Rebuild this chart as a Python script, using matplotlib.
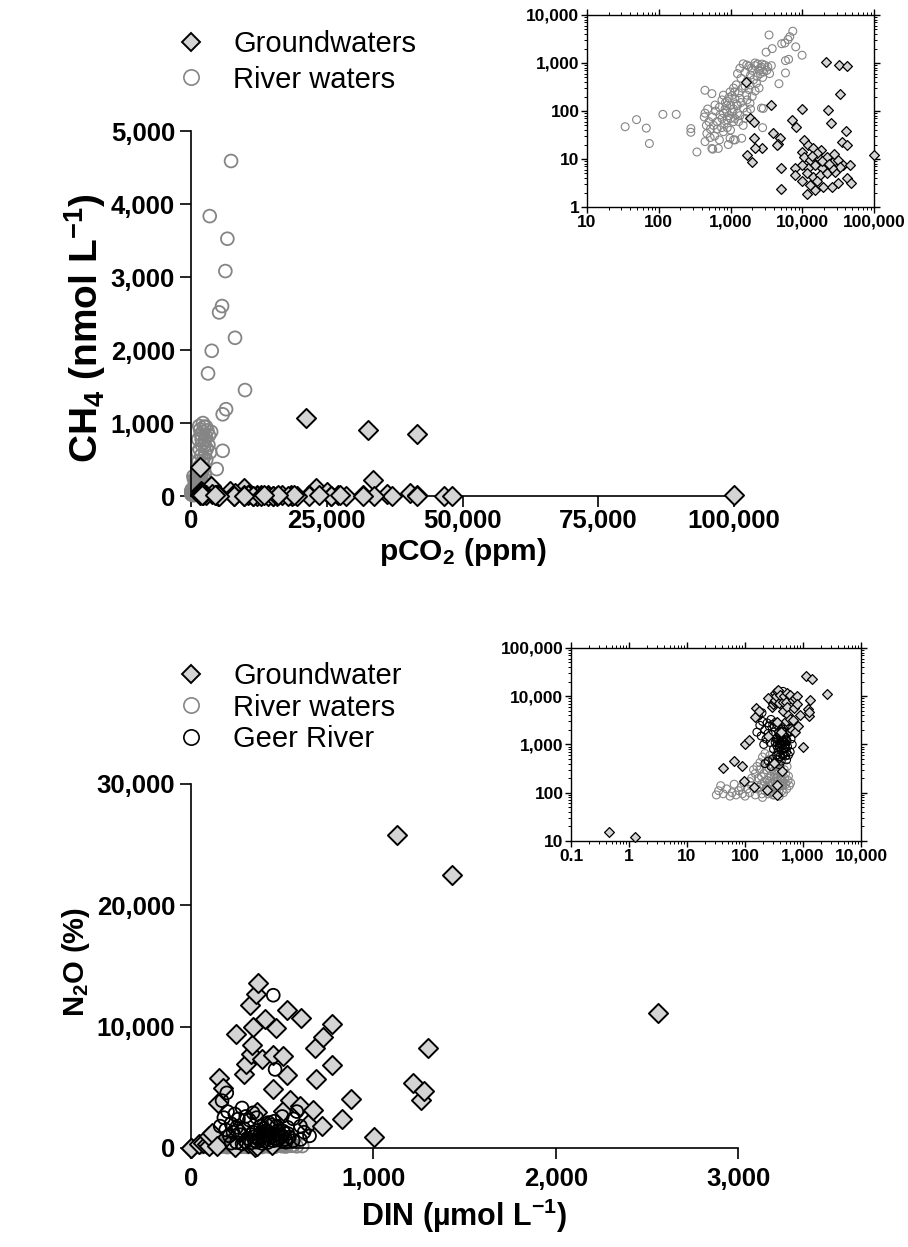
import numpy as np
import matplotlib
matplotlib.use('Agg')
import matplotlib.pyplot as plt
from matplotlib.lines import Line2D
from matplotlib.ticker import FuncFormatter, LogLocator, NullFormatter

plt.rcParams['font.family'] = 'Liberation Sans'
plt.rcParams['font.weight'] = 'bold'
plt.rcParams['axes.labelweight'] = 'bold'
plt.rcParams['mathtext.default'] = 'regular'

# ---- pCO2 (ppm) vs CH4 (nmol L-1) ----
gw_co2_ch4 = [
    (100000, 12), (21200, 1070), (32500, 910), (41600, 850), (33600, 225),
    (1640, 400), (3670, 133), (9800, 108), (23000, 105), (7130, 65), (8180, 47),
    (25100, 57), (40300, 39), (3950, 34), (4900, 28), (4570, 21), (36000, 23),
    (41600, 19.6), (2720, 17), (10700, 25), (12200, 19.6), (9800, 14.2),
    (10400, 11.2), (14200, 16.7), (18500, 15.4), (16700, 11.2), (12900, 9.5),
    (21800, 11.2), (27100, 8.8), (31600, 9.5), (37000, 7.5), (46500, 7.5),
    (15100, 7.5), (18600, 6.4), (12200, 6.4), (9800, 7.5), (8000, 6.4),
    (5000, 6.4), (8000, 4.6), (11500, 5.0), (14200, 4.3), (17800, 4.6),
    (21800, 5.0), (28500, 5.4), (33700, 6.9), (25800, 6.4), (41600, 4.0),
    (48000, 3.1), (31700, 3.1), (25800, 2.6), (19500, 2.6), (15100, 2.3),
    (11500, 1.9), (12900, 2.9), (5100, 2.4), (15800, 3.4), (9800, 3.4),
    (1860, 70), (2090, 60), (2090, 27), (2200, 16.7), (1700, 12), (1970, 8.8),
    (4450, 20), (19000, 9), (23500, 8), (27500, 12.5), (16000, 13.5), (13500, 11.5),
]
rw_co2_ch4 = [
    (34, 47), (49, 66), (67, 44), (74, 21), (114, 85), (175, 85), (280, 43),
    (280, 36), (340, 14), (440, 270), (550, 230),
    (7370, 4590), (3440, 3835), (6690, 3525), (6320, 3082), (5710, 2603),
    (5160, 2516), (8100, 2168), (3810, 1990), (3130, 1680), (9940, 1452),
    (6450, 1190), (5830, 1120), (5830, 620), (4730, 370),
    (1350, 776), (1680, 910), (2190, 1000), (2580, 776), (2350, 525), (1870, 350),
    (1500, 960), (1800, 850), (2000, 700), (2200, 880), (2400, 950), (2700, 820),
    (2900, 650), (3200, 700), (3500, 600), (2600, 600), (3000, 900), (1600, 640),
    (1900, 560), (2100, 450), (2800, 500), (1400, 480), (1700, 420), (2300, 380),
    (3300, 830), (2500, 700), (2750, 950), (1950, 780), (1250, 600), (3700, 880),
    (985, 250), (795, 214), (1350, 183), (1510, 115), (1680, 214), (1870, 145),
    (1100, 300), (1200, 350), (900, 160), (1000, 130), (1300, 240), (1450, 300),
    (1600, 330), (1150, 180), (1250, 130), (2700, 115), (2000, 200), (2200, 260),
    (1800, 280), (2500, 300), (2860, 113), (1050, 210), (950, 190), (850, 150),
    (1400, 150), (1700, 170), (1150, 250),
    (2800, 45), (1430, 27), (1100, 25), (441, 90), (468, 34), (441, 23),
    (550, 16.6), (675, 16.6), (525, 42), (608, 133), (714, 83), (885, 98),
    (1100, 60), (795, 37), (985, 27), (1160, 25), (650, 42), (500, 60), (560, 75),
    (620, 100), (700, 120), (760, 70), (820, 55), (880, 130), (950, 80),
    (1050, 95), (1150, 70), (1250, 90), (1300, 60), (600, 30), (700, 25),
    (900, 45), (1000, 40), (565, 16), (930, 20), (520, 28), (460, 50), (480, 110),
    (430, 75), (760, 170), (840, 110), (1200, 140), (1000, 70), (800, 90),
    (650, 60), (1100, 110), (1350, 80), (1500, 50), (900, 65), (750, 45),
    (580, 50), (1700, 95), (1900, 110), (1600, 70),
]

# ---- DIN (umol L-1) vs N2O saturation (%) ----
gw_din_n2o = [
    (0.46, 15), (1.27, 12), (41, 320), (65, 450), (88, 355), (96, 175),
    (101, 1020), (117, 1230), (143, 133), (150, 3719), (154, 5730), (177, 4959),
    (243, 114), (247, 9366), (291, 6116), (302, 6887), (310, 415), (324, 11760),
    (327, 7713), (333, 8485), (342, 9972), (352, 89), (356, 12670), (360, 145),
    (360, 2948), (369, 13580), (388, 7300), (406, 10660), (442, 285),
    (452, 7631), (452, 4821), (464, 9917), (503, 7576), (506, 3030),
    (525, 5978), (529, 11380), (543, 3994), (598, 3444), (601, 10740),
    (644, 2011), (671, 3168), (680, 8209), (686, 5702), (717, 1791),
    (722, 9146), (771, 10250), (771, 6804), (826, 2397), (876, 4050),
    (1004, 882), (1128, 25810), (1219, 5317), (1263, 3940), (1278, 4683),
    (1302, 8264), (1430, 22510), (2560, 11100), (415, 1790), (250, 1500),
]
rw_din_n2o = [
    (32, 90), (35, 110), (38, 140), (42, 95), (48, 120), (55, 85), (60, 100),
    (65, 150), (70, 90), (78, 110), (85, 130), (90, 95), (95, 160), (100, 85),
    (110, 120), (120, 100), (130, 140), (150, 90), (160, 120), (170, 200),
    (180, 300), (190, 150), (200, 80), (210, 250), (220, 110), (230, 400),
    (240, 180), (250, 95), (260, 320), (270, 140), (280, 220), (290, 500),
    (300, 120), (310, 280), (320, 90), (330, 170), (340, 350), (350, 110),
    (360, 240), (370, 130), (380, 300), (390, 85), (400, 190), (420, 140),
    (440, 260), (460, 100), (480, 200), (500, 150), (520, 120), (550, 180),
    (580, 140), (610, 160), (200, 550), (220, 650), (250, 480), (180, 420),
    (160, 350), (270, 600), (300, 450), (330, 550), (150, 250), (175, 130),
    (195, 95), (215, 170), (235, 130), (255, 200), (275, 100), (295, 160),
    (315, 210), (335, 130), (355, 280), (375, 180), (395, 150), (415, 220),
    (435, 110), (455, 170), (475, 300), (500, 250), (530, 350), (560, 220),
    (190, 220), (210, 140), (230, 300), (265, 170), (285, 350), (305, 90),
    (325, 250), (345, 200), (365, 420), (385, 110), (405, 330), (425, 180),
    (445, 140), (130, 200), (140, 300), (120, 170),
]
geer_din_n2o = [
    (310, 800), (330, 1100), (350, 950), (360, 1400), (370, 700), (380, 1200),
    (390, 900), (400, 1600), (410, 1050), (420, 750), (430, 1300), (440, 1900),
    (450, 980), (460, 1150), (470, 650), (480, 1450), (490, 850), (500, 1000),
    (510, 1250), (520, 700), (530, 1700), (540, 900), (350, 600), (400, 560),
    (450, 600), (500, 580), (420, 1000), (380, 1800), (340, 1300), (460, 800),
    (480, 1100), (410, 1400), (440, 1200), (395, 1100), (365, 850), (505, 1400),
    (530, 1200), (470, 1800), (425, 2100), (455, 2200),
    (160, 1800), (180, 2500), (200, 3000), (220, 2000), (240, 2800), (260, 2400),
    (280, 3300), (300, 2600), (190, 1500), (230, 1300), (250, 1700), (270, 1100),
    (290, 1600), (210, 1000), (320, 2300), (340, 2900), (360, 2500), (500, 2600),
    (560, 2400), (600, 1800), (620, 1300), (650, 1000), (580, 3000),
    (220, 400), (250, 450), (280, 350), (300, 500), (330, 420), (360, 480),
    (390, 380), (420, 450), (520, 480), (560, 600), (600, 700),
    (451, 12590), (461, 6474), (196, 4545), (170, 3900),
]

DIAMOND_FILL = '#d4d4d4'
RIVER_GREY = '#858585'


def comma(v, pos):
    return f'{v:g}' if v < 1 else f'{v:,.0f}'


def main_axes(fig, rect, xlim, ylim, xticks, yticks, xpad):
    ax = fig.add_axes(rect)
    ax.spines[['top', 'right']].set_visible(False)
    ax.spines[['left', 'bottom']].set_linewidth(1.2)
    ax.set_xlim(xlim)
    ax.set_ylim(ylim)
    ax.set_xticks(xticks)
    ax.set_yticks(yticks)
    ax.xaxis.set_major_formatter(FuncFormatter(comma))
    ax.yaxis.set_major_formatter(FuncFormatter(comma))
    ax.tick_params(direction='out', length=8, width=1.2, labelsize=18.5)
    ax.tick_params(axis='y', pad=3.5)
    ax.tick_params(axis='x', pad=xpad)
    return ax


def log_inset(fig, rect, xlim, ylim):
    ax = fig.add_axes(rect)
    ax.set_xscale('log')
    ax.set_yscale('log')
    ax.set_xlim(xlim)
    ax.set_ylim(ylim)
    for s in ax.spines.values():
        s.set_linewidth(1.0)
    for axis in (ax.xaxis, ax.yaxis):
        axis.set_major_locator(LogLocator(base=10, numticks=12))
        axis.set_minor_locator(LogLocator(base=10, subs=np.arange(2, 10), numticks=12))
        axis.set_major_formatter(FuncFormatter(comma))
        axis.set_minor_formatter(NullFormatter())
    ax.tick_params(which='both', direction='out', top=True, right=True,
                   labelsize=12.5, pad=1.5)
    ax.tick_params(which='major', length=4, width=1.0)
    ax.tick_params(which='minor', length=2.5, width=0.7)
    return ax


def diamonds(ax, pts, s, lw, z=3):
    x, y = np.array(pts).T
    ax.scatter(x, y, marker='D', s=s, facecolor=DIAMOND_FILL, edgecolor='black',
               linewidths=lw, zorder=z, clip_on=False)


def circles(ax, pts, s, lw, color, z=2):
    x, y = np.array(pts).T
    ax.scatter(x, y, marker='o', s=s, facecolor='none', edgecolor=color,
               linewidths=lw, zorder=z, clip_on=False)


def add_legend(handles, labels, top, spacing):
    fig.legend(handles, labels, loc='upper left', bbox_to_anchor=(0.1943, top),
               frameon=False, borderpad=0, borderaxespad=0,
               handlelength=1.0, handletextpad=0.94, labelspacing=spacing,
               prop={'weight': 'normal', 'size': 21})


gw_handle = Line2D([], [], ls='none', marker='D', ms=9, mfc=DIAMOND_FILL,
                   mec='black', mew=1.4)
rw_handle = Line2D([], [], ls='none', marker='o', ms=11, mfc='none',
                   mec=RIVER_GREY, mew=1.2)
geer_handle = Line2D([], [], ls='none', marker='o', ms=11, mfc='none',
                     mec='black', mew=1.2)

fig = plt.figure(figsize=(9.08, 12.47), dpi=100)

# top: CH4 against pCO2
ax1 = main_axes(fig, [0.2104, 0.6022, 0.5980, 0.2927], (0, 100000), (0, 5000),
                [0, 25000, 50000, 75000, 100000], np.arange(0, 5001, 1000), xpad=1.5)
circles(ax1, rw_co2_ch4, 85, 1.3, RIVER_GREY)
diamonds(ax1, gw_co2_ch4, 95, 1.4)
ax1.set_xlabel('pCO$_2$ (ppm)', fontsize=21.5, labelpad=2)
ax1.set_ylabel('CH$_4$ (nmol L$^{-1}$)', fontsize=28)
ax1.yaxis.set_label_coords(-0.153, 0.46)

in1 = log_inset(fig, [0.6465, 0.8340, 0.3161, 0.1540], (10, 100000), (1, 10000))
circles(in1, rw_co2_ch4, 32, 0.8, RIVER_GREY)
diamonds(in1, gw_co2_ch4, 25, 0.9)

add_legend([gw_handle, rw_handle], ['Groundwaters', 'River waters'], 0.976, 0.26)

# bottom: N2O against DIN
ax2 = main_axes(fig, [0.2104, 0.0794, 0.6024, 0.2919], (0, 3000), (0, 30000),
                [0, 1000, 2000, 3000], [0, 10000, 20000, 30000], xpad=6)
circles(ax2, rw_din_n2o, 85, 1.3, RIVER_GREY, z=2)
diamonds(ax2, gw_din_n2o, 95, 1.4, z=3)
circles(ax2, geer_din_n2o, 85, 1.3, 'black', z=4)
ax2.set_xlabel('DIN (µmol L$^{-1}$)', fontsize=22, labelpad=4)
ax2.set_ylabel('N$_2$O (%)', fontsize=21)
ax2.yaxis.set_label_coords(-0.181, 0.51)

in2 = log_inset(fig, [0.6289, 0.3256, 0.3194, 0.1548], (0.1, 10000), (10, 100000))
circles(in2, rw_din_n2o, 32, 0.8, RIVER_GREY, z=2)
circles(in2, geer_din_n2o, 32, 0.8, 'black', z=3)
diamonds(in2, gw_din_n2o, 25, 0.9, z=4)

add_legend([gw_handle, rw_handle, geer_handle],
           ['Groundwater', 'River waters', 'Geer River'], 0.4691, 0.12)

fig.savefig('out.png', dpi=100)
